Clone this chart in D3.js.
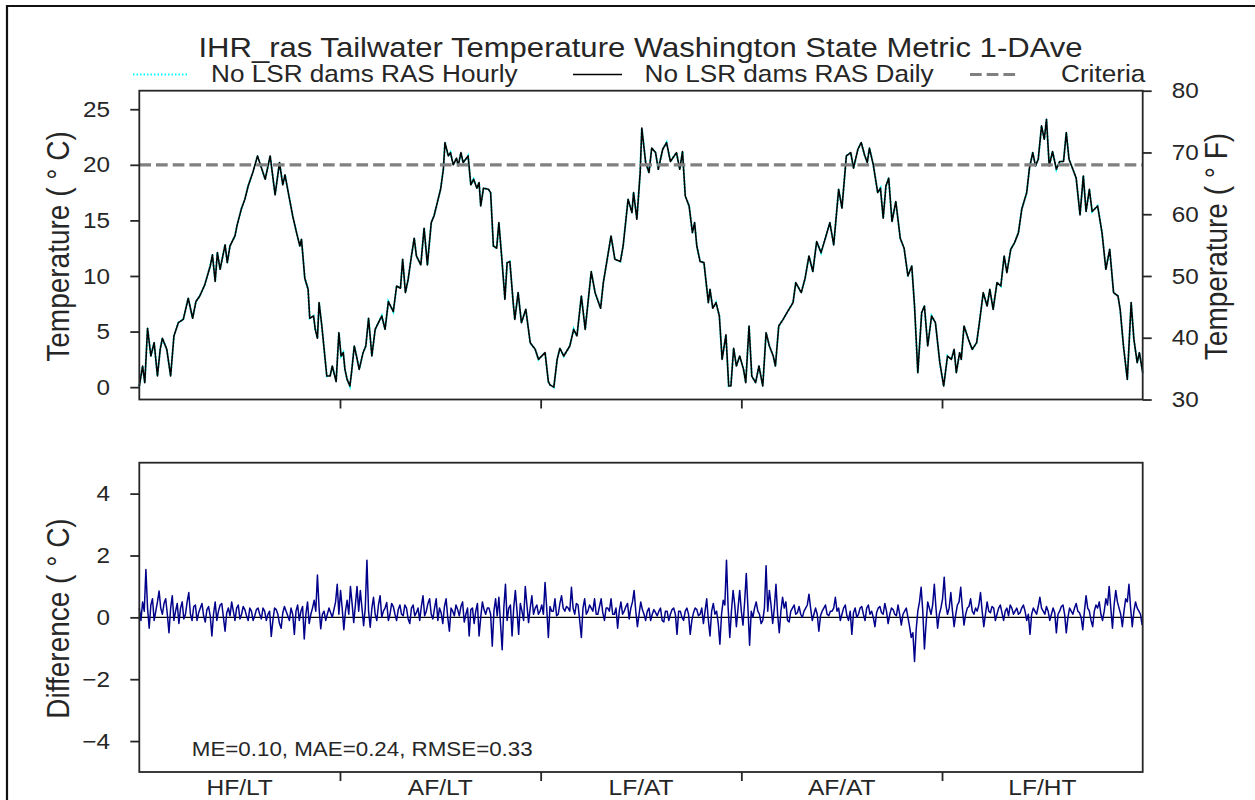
<!DOCTYPE html>
<html><head><meta charset="utf-8">
<script src="https://cdn.jsdelivr.net/npm/d3@7"></script>
<style>
body{margin:0;background:#fff}
svg{display:block}
text{font-family:"Liberation Sans",Arial,Helvetica,sans-serif;fill:#262626}
</style>
</head><body>
<svg id="c" width="1255" height="800"></svg>
<script>
// ---------------- data ----------------
const titleText = "IHR_ras Tailwater Temperature Washington State Metric 1-DAve";
const seriesNames = ["No LSR dams RAS Hourly", "No LSR dams RAS Daily", "Criteria"];
const periodLabels = ["HF/LT", "AF/LT", "LF/AT", "AF/AT", "LF/HT"];
const periodLength = 365;          // days per period
const totalDays = 1825;
const criteriaC = 20;
const yTicksC = [0, 5, 10, 15, 20, 25];
const yTicksF = [30, 40, 50, 60, 70, 80];
const diffTicks = [-4, -2, 0, 2, 4];
const diffDomain = [-5, 5];
const statNames = ["ME", "MAE", "RMSE"];
const statValues = [0.10, 0.24, 0.33];

// daily temperature [day, degC]
const dailyPoints = [
[0,0.1],[6,1.9],[10,0.4],[15,5.3],[21,2.8],[27,4.0],[33,1.0],[38,3.4],[42,4.4],[50,3.4],
[57,1.0],[63,4.6],[71,5.8],[80,6.1],[89,8.0],[97,6.2],[103,7.7],[110,8.2],[119,9.2],[129,10.9],
[133,11.9],[138,9.5],[142,12.1],[147,10.6],[156,12.8],[160,11.2],[165,12.7],[174,13.6],[178,14.6],[186,16.1],
[192,16.9],[198,18.1],[207,19.4],[215,20.8],[223,19.6],[229,18.7],[238,20.8],[247,17.3],[255,20.2],[261,18.2],
[265,19.1],[271,17.5],[279,15.4],[286,13.9],[292,12.7],[295,13.3],[301,9.8],[307,8.8],[310,6.2],[317,6.4],
[320,5.2],[324,4.4],[327,7.6],[332,5.5],[341,1.0],[347,1.0],[351,1.9],[358,0.5],[363,4.9],[367,2.8],
[371,3.1],[374,1.6],[378,0.7],[383,0.1],[386,1.3],[391,3.7],[395,2.8],[400,1.6],[407,3.1],[412,3.7],
[417,6.2],[423,2.8],[429,5.2],[435,5.8],[441,6.4],[447,5.2],[453,7.7],[462,6.8],[468,9.1],[475,8.9],
[479,11.5],[484,8.5],[489,9.7],[495,11.8],[500,13.4],[504,11.8],[512,11.0],[518,14.3],[524,11.0],[531,14.8],
[536,15.4],[542,16.6],[548,17.8],[553,19.6],[556,22.0],[562,20.8],[566,21.1],[571,20.0],[577,20.6],[580,19.9],
[585,21.1],[589,20.2],[598,20.8],[603,18.2],[608,18.7],[614,17.9],[618,18.4],[621,16.3],[626,17.9],[635,17.8],
[639,17.5],[644,12.7],[650,12.5],[654,14.8],[659,11.8],[665,7.9],[669,11.2],[674,11.3],[680,7.6],[683,6.1],
[689,8.5],[695,5.8],[703,7.0],[711,4.0],[720,3.4],[726,2.5],[738,3.1],[744,0.5],
[747,0.2],[754,0.0],[760,2.5],[765,3.5],[772,2.8],[783,3.7],[790,5.2],[796,4.6],[804,8.2],[811,5.2],
[822,10.4],[829,8.5],[839,7.1],[844,9.4],[851,11.5],[858,13.6],[865,11.5],[875,11.3],[880,12.7],[889,16.9],
[896,15.7],[899,17.5],[905,15.1],[911,19.3],[914,23.3],[921,20.2],[927,19.3],[932,21.5],[939,21.1],[944,19.6],
[952,21.4],[959,22.0],[966,20.3],[977,21.1],[983,19.6],[988,21.2],[993,17.2],[1000,16.3],[1006,13.9],[1010,14.8],
[1014,12.7],[1020,11.3],[1027,11.2],[1035,7.6],[1038,8.8],[1043,7.1],[1049,7.6],[1055,6.4],[1060,2.5],[1067,4.7],
[1072,0.1],[1076,0.1],[1081,3.5],[1086,1.9],[1092,2.8],[1099,1.6],[1103,0.4],[1109,5.5],[1114,1.0],[1121,0.4],
[1127,1.9],[1134,0.1],[1140,4.9],[1146,3.7],[1153,2.8],[1157,1.9],[1163,5.5],[1171,6.1],[1178,6.7],[1189,7.6],
[1194,9.4],[1204,8.5],[1211,9.8],[1218,11.8],[1225,10.4],[1232,13.1],[1240,12.1],[1249,13.6],[1256,14.8],[1263,12.8],
[1272,17.8],[1278,16.1],[1286,20.8],[1294,21.1],[1299,19.7],[1307,21.4],[1313,22.0],[1319,20.9],[1324,20.2],[1328,21.5],
[1335,20.0],[1343,17.5],[1348,17.9],[1353,15.2],[1358,18.1],[1363,18.8],[1369,14.9],[1376,16.7],[1384,13.4],[1391,12.5],
[1398,10.0],[1405,10.9],[1410,7.3],[1416,1.3],[1423,6.7],[1428,7.3],[1434,3.7],[1441,6.4],[1448,5.8],[1456,2.2],
[1463,0.1],[1470,2.8],[1477,2.5],[1482,3.4],[1486,1.3],[1492,3.1],[1495,2.5],[1500,5.5],[1508,4.3],[1515,3.4],
[1523,4.0],[1528,5.8],[1535,8.5],[1542,7.3],[1547,8.8],[1553,7.0],[1560,9.4],[1567,9.1],[1573,11.8],[1578,10.3],
[1585,12.4],[1592,13.0],[1599,13.9],[1605,16.0],[1614,17.5],[1619,19.7],[1625,21.1],[1630,19.9],[1635,20.5],[1641,23.5],
[1646,22.3],[1650,24.1],[1655,19.9],[1661,21.2],[1668,19.6],[1674,20.3],[1681,20.3],[1686,22.9],[1691,20.5],[1698,19.6],
[1704,18.8],[1711,15.5],[1717,19.0],[1722,15.8],[1728,17.8],[1733,15.8],[1743,16.3],[1751,13.9],[1758,10.6],[1765,12.4],
[1772,8.5],[1780,8.2],[1784,7.0],[1790,3.7],[1797,0.7],[1804,7.6],[1809,4.3],[1815,2.2],[1819,3.1],[1825,1.3]
];
// hourly series practically coincides with the daily one at this scale
const hourlyPoints = dailyPoints;

// hourly - daily difference; readings on days 0,6,12,... (A) and 3,9,15,... (B)
const diffStepDays = 3;
const diffReadingsA = [
0.3,0.5,1.55,-0.35,0.6,0.2,0.85,0.1,0.6,-0.5,
0.7,0.2,-0.2,0.5,0.1,0.8,-0.1,0.4,0.15,0.45,
-0.15,0.35,-0.6,0.5,0.2,0.45,-0.45,0.3,0.5,-0.1,
0.4,0.1,0.25,-0.1,0.2,0.05,0.3,-0.05,0.2,0.1,
-0.62,0.3,0.1,-0.35,0.35,0.05,0.3,-0.55,0.4,0.2,
-0.7,0.5,0.1,0.55,1.37,-0.37,0.2,0.1,0.15,0.25,
1.07,0.87,-0.4,0.55,1.0,-0.17,1.0,0.87,-0.27,1.85,
-0.32,0.65,-0.1,0.7,0.2,0.48,0.1,0.35,-0.1,0.4,
0.05,0.3,-0.2,0.4,0.15,-0.1,0.7,0.2,0.6,-0.05,
0.6,0.3,-0.2,0.6,-0.45,0.2,0.4,0.05,0.5,0.1,
-0.6,0.3,0.2,-0.6,0.5,0.1,0.3,-0.93,0.6,0.65,
-1.05,1.07,0.3,-0.6,0.87,-0.55,0.2,1.0,-0.17,0.7,
0.3,0.1,0.4,1.13,-0.65,0.2,0.6,0.1,0.7,0.2,
0.3,0.97,0.1,0.4,-0.65,0.6,0.2,0.3,0.6,0.1,
0.6,-0.1,0.3,0.6,0.1,-0.35,0.5,0.2,0.45,0.3,
0.87,-0.3,0.5,0.1,0.2,-0.1,0.25,0.05,0.3,-0.15,
0.2,0.1,0.3,-0.55,0.2,-0.1,0.3,-0.55,0.15,0.25,
0.1,-0.2,0.6,-0.6,0.45,0.2,-0.87,0.55,1.85,-0.65,
0.87,-0.3,0.87,-0.25,1.42,-0.9,0.0,0.5,0.1,-0.1,
1.67,0.87,-0.2,1.07,-0.5,0.65,0.5,-0.15,0.3,0.1,
0.35,0.0,0.3,0.75,-0.1,0.3,-0.45,0.2,0.4,0.05,
0.2,0.65,0.3,0.1,0.4,-0.1,-0.55,0.3,0.1,0.35,
-0.1,0.4,0.2,-0.3,0.3,0.15,0.45,-0.2,0.3,0.1,
0.4,-0.25,0.2,0.0,-0.65,-1.43,0.2,0.97,-1.02,0.5,
0.1,1.07,-0.35,0.3,1.3,0.1,0.8,-0.3,0.4,0.97,
-0.25,0.3,0.6,0.1,0.2,0.8,-0.3,0.5,0.15,0.3,
0.1,0.4,-0.1,0.3,0.4,0.1,0.3,0.15,0.4,-0.1,
-0.55,0.3,0.1,0.65,0.2,0.35,-0.1,0.3,-0.5,0.2,
0.4,-0.5,0.3,0.1,0.45,0.15,-0.4,0.7,0.2,-0.3,
0.4,0.5,-0.1,0.6,1.0,-0.35,0.87,0.3,-0.3,0.6,
1.07,-0.3,0.5,0.2,-0.25
];
const diffReadingsB = [
-0.1,0.2,0.3,0.4,-0.1,0.5,0.3,0.45,0.1,0.3,
-0.1,0.45,0.3,-0.05,0.5,0.1,0.35,-0.1,0.3,0.05,
0.25,0.05,0.1,-0.1,0.4,0.0,0.15,0.05,0.2,0.3,
-0.05,0.35,0.05,0.3,-0.1,0.25,0.1,0.3,-0.1,0.2,
-0.1,0.25,-0.2,0.15,0.2,-0.1,0.1,0.2,-0.1,0.35,
0.1,-0.2,0.3,0.2,0.3,0.1,-0.1,0.3,0.0,0.5,
0.1,0.3,0.2,0.1,0.45,0.4,0.2,0.3,0.3,0.2,
0.3,0.1,0.4,0.0,0.3,-0.1,0.45,0.1,0.25,0.1,
0.4,-0.05,0.3,0.05,0.3,0.35,0.05,0.45,0.1,0.3,
-0.1,0.15,0.35,0.0,0.3,0.05,0.25,0.35,-0.15,0.3,
0.25,-0.2,0.45,0.0,0.25,0.3,0.1,0.2,0.05,-0.2,
0.3,-0.1,0.4,0.3,0.2,0.45,-0.1,0.4,0.3,0.1,
0.4,0.2,0.1,0.3,0.35,0.2,0.05,0.45,0.3,0.35,
0.2,0.3,0.45,-0.1,0.3,0.1,0.4,0.2,0.1,0.35,
0.15,0.3,0.2,0.1,0.3,0.2,0.1,0.35,-0.05,0.5,
0.2,0.1,0.25,-0.1,0.3,0.1,0.15,0.2,-0.1,0.2,
-0.1,0.25,0.1,0.2,0.0,0.2,0.1,-0.1,0.3,0.05,
0.3,0.2,-0.1,0.2,0.1,-0.2,0.1,0.4,0.3,0.2,
0.4,0.3,0.2,0.5,0.3,0.2,0.3,0.2,-0.2,0.3,
0.2,0.4,0.3,0.1,0.2,0.3,-0.1,0.2,0.4,0.15,
0.1,0.2,0.4,0.3,0.1,0.1,0.05,0.3,0.1,0.2,
0.3,0.2,-0.1,0.3,0.05,0.2,0.15,0.0,0.3,0.1,
0.3,0.1,0.0,0.15,0.35,0.1,0.2,0.1,0.25,0.05,
0.1,0.1,0.3,-0.3,-0.5,-0.4,0.5,0.2,-0.2,0.3,
0.4,0.3,0.1,0.6,0.4,0.3,0.2,0.1,0.5,0.3,
0.1,0.35,0.2,0.3,0.4,0.2,0.1,0.2,0.35,-0.1,
0.3,0.15,0.2,0.05,0.3,0.2,0.1,0.3,0.2,0.1,
0.1,0.2,0.35,0.3,0.1,0.2,0.1,0.15,0.1,0.35,
0.1,0.0,0.2,0.3,0.2,0.0,0.2,0.3,-0.1,0.2,
0.3,0.1,0.2,0.4,0.3,0.4,0.5,0.1,0.2,0.5,
0.3,0.2,0.3,0.1
];

// ---------------- drawing ----------------
const svg = d3.select("#c");
const ink = "#262626";
const SX = 1.09;              // horizontal glyph stretch of the original raster
const f2c = f => (f - 32) / 1.8;

const L = 139.3, R = 1142.7;
const top1 = 90.7, bot1 = 399.5, top2 = 462.7, bot2 = 772;

const x = d3.scaleLinear().domain([0, totalDays]).range([L, R]);
const yF = d3.scaleLinear().domain([yTicksF[0], yTicksF[yTicksF.length - 1]]).range([bot1, top1]);
const yC = d3.scaleLinear().domain(yF.domain().map(f2c)).range([bot1, top1]);
const yD = d3.scaleLinear().domain(diffDomain).range([bot2, top2]);

const bounds = d3.range(1, periodLabels.length).map(i => i * periodLength);
const centers = periodLabels.map((_, i) => (i + 0.5) * periodLength);

// figure frame
svg.append("path").attr("d", "M7,800 V6 H1255").attr("fill", "none")
  .attr("stroke", "#111").attr("stroke-width", 2.2);

function stext(g, xp, yp, str, size, anchor, rot) {
  return g.append("text")
    .attr("transform", `translate(${xp},${yp}) scale(${SX},1)` + (rot ? ` rotate(${rot})` : ""))
    .attr("text-anchor", anchor).attr("font-size", size).text(str);
}
function styleAxis(g, side) {
  g.select(".domain").remove();
  g.selectAll(".tick line").attr("stroke", ink).attr("stroke-width", 1.8);
  const t = g.selectAll(".tick text").attr("font-size", 22.3).attr("fill", ink)
    .attr("font-family", '"Liberation Sans", Arial, sans-serif');
  if (side === "left") t.attr("x", -29.3 / SX).attr("transform", `scale(${SX},1)`);
  if (side === "right") t.attr("x", 29 / SX).attr("transform", `scale(${SX},1)`);
}

// ---- top panel ----
const line = d3.line().x(d => x(d[0])).y(d => yC(d[1]));
svg.append("path").datum(hourlyPoints).attr("d", line).attr("fill", "none")
  .attr("stroke", "#00ffff").attr("stroke-width", 2.2).attr("stroke-dasharray", "1.5,2");
svg.append("path").datum(dailyPoints).attr("d", line).attr("fill", "none")
  .attr("stroke", "#000").attr("stroke-width", 1.6).attr("stroke-linejoin", "round");
svg.append("line").attr("x1", x(0)).attr("x2", x(totalDays))
  .attr("y1", yC(criteriaC)).attr("y2", yC(criteriaC))
  .attr("stroke", "#808080").attr("stroke-width", 3.2).attr("stroke-dasharray", "11.7,5");

svg.append("rect").attr("x", L).attr("y", top1).attr("width", R - L).attr("height", bot1 - top1)
  .attr("fill", "none").attr("stroke", ink).attr("stroke-width", 1.8);

const gl1 = svg.append("g").attr("transform", `translate(${L},0)`)
  .call(d3.axisLeft(yC).tickValues(yTicksC).tickSize(9).tickFormat(d3.format("d")));
styleAxis(gl1, "left");
const gr1 = svg.append("g").attr("transform", `translate(${R},0)`)
  .call(d3.axisRight(yF).tickValues(yTicksF).tickSize(9).tickFormat(d3.format("d")));
styleAxis(gr1, "right");
const gb1 = svg.append("g").attr("transform", `translate(0,${bot1})`)
  .call(d3.axisBottom(x).tickValues(bounds).tickSize(9).tickFormat(""));
styleAxis(gb1, "bottom");

stext(svg, 69, 246.5, "Temperature ( ° C)", 28, "middle", -90);
stext(svg, 1227, 246.5, "Temperature ( ° F)", 28, "middle", -90);

// title + legend
stext(svg, 640.5, 56.5, titleText, 28.5, "middle");
const legY = 74.5;
svg.append("line").attr("x1", 133).attr("x2", 189).attr("y1", legY).attr("y2", legY)
  .attr("stroke", "#00ffff").attr("stroke-width", 2).attr("stroke-dasharray", "1.5,2");
stext(svg, 211, 82, seriesNames[0], 24, "start");
svg.append("line").attr("x1", 573).attr("x2", 622).attr("y1", legY).attr("y2", legY)
  .attr("stroke", "#000").attr("stroke-width", 1.6);
stext(svg, 644.5, 82, seriesNames[1], 24, "start");
svg.append("line").attr("x1", 970).attr("x2", 1019).attr("y1", legY).attr("y2", legY)
  .attr("stroke", "#808080").attr("stroke-width", 3.2).attr("stroke-dasharray", "11.7,5");
stext(svg, 1061, 82, seriesNames[2], 24, "start");

// ---- bottom panel ----
const diffValues = diffReadingsA.flatMap((v, i) => i < diffReadingsB.length ? [v, diffReadingsB[i]] : [v]);
const diffPoints = diffValues.map((v, i) => [i * diffStepDays, v]);
svg.append("line").attr("x1", L).attr("x2", R).attr("y1", yD(0)).attr("y2", yD(0))
  .attr("stroke", "#000").attr("stroke-width", 1.2);
svg.append("path").datum(diffPoints)
  .attr("d", d3.line().x(d => x(d[0])).y(d => yD(d[1])))
  .attr("fill", "none").attr("stroke", "#00008b").attr("stroke-width", 1.5).attr("stroke-linejoin", "round");

svg.append("rect").attr("x", L).attr("y", top2).attr("width", R - L).attr("height", bot2 - top2)
  .attr("fill", "none").attr("stroke", ink).attr("stroke-width", 1.8);

const gl2 = svg.append("g").attr("transform", `translate(${L},0)`)
  .call(d3.axisLeft(yD).tickValues(diffTicks).tickSize(9).tickFormat(d3.format("d")));
styleAxis(gl2, "left");
const gb2 = svg.append("g").attr("transform", `translate(0,${bot2})`)
  .call(d3.axisBottom(x).tickValues(bounds).tickSize(9).tickFormat(""));
styleAxis(gb2, "bottom");

periodLabels.forEach((lab, i) => stext(svg, x(centers[i]), 795, lab, 22.5, "middle"));

stext(svg, 69, 618.5, "Difference ( ° C)", 28, "middle", -90);

const statText = statNames.map((n, i) => `${n}=${statValues[i].toFixed(2)}`).join(", ");
stext(svg, 191.8, 756, statText, 20.5, "start");
</script>
</body></html>
